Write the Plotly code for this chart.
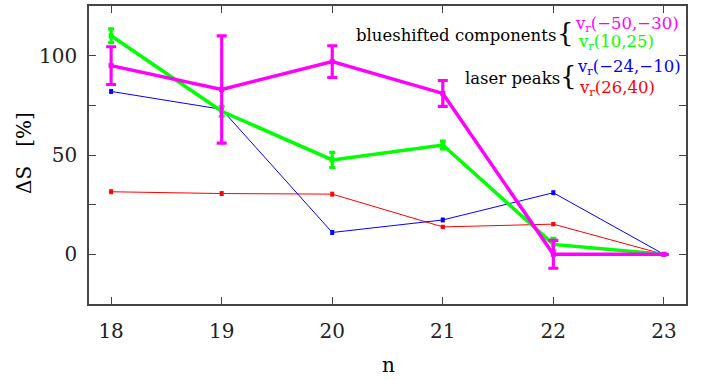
import plotly.graph_objects as go

n = [18, 19, 20, 21, 22, 23]

mag_vals = [95, 83, 97, 81, 0, 0]
mag_err = [9.5, 27, 8, 6.5, 7, 0]
grn_vals = [110, 72, 47.5, 55, 5, 0]
grn_err = [3.5, 2.5, 3.8, 2, 3, 0]
blu_vals = [82, 73, 11, 17.3, 31, 0]
blu_err = [1, 1, 1, 1, 1, 0.5]
red_vals = [31.5, 30.6, 30.3, 13.8, 15.2, 0]
red_err = [1, 1, 1, 0.8, 0.8, 0.5]

FONT = "DejaVu Serif"

fig = go.Figure()

def add(vals, err, color, lw, cap, ms):
    fig.add_trace(go.Scatter(
        x=n, y=vals, mode="lines+markers",
        line=dict(color=color, width=lw),
        marker=dict(color=color, size=ms, symbol="square"),
        error_y=dict(type="data", array=err, visible=True, color=color,
                     thickness=lw * 0.9, width=cap),
        showlegend=False, hoverinfo="skip"))

add(red_vals, red_err, "#ff0000", 1, 2, 4)
add(blu_vals, blu_err, "#0000ff", 1, 2, 4)
add(grn_vals, grn_err, "#00ff00", 3.5, 3, 5)
add(mag_vals, mag_err, "#ff00ff", 3.5, 5, 5)

L, R, T, B = 89, 18, 6, 76
W, H = 704, 380
pw, ph = W - L - R, H - T - B

def px(x):
    return (x - L) / pw

def py(y):
    return (H - B - y) / ph

ann = []
def text(x, y, s, color="black", size=16.5, xanchor="left", angle=0):
    ann.append(dict(x=px(x), y=py(y), xref="paper", yref="paper", text=s,
                    showarrow=False, xanchor=xanchor, yanchor="middle",
                    textangle=angle, borderpad=0,
                    font=dict(family=FONT, size=size, color=color)))

text(557, 35, "blueshifted components", xanchor="right")
text(565, 33, "{", size=26, xanchor="center")
text(574, 24, "v<sub>r</sub>(−50,−30)", color="#ff00ff")
text(577, 43, "v<sub>r</sub>(10,25)", color="#00ff00")
text(561, 78, "laser peaks", xanchor="right")
text(568, 76, "{", size=26, xanchor="center")
text(576, 67, "v<sub>r</sub>(−24,−10)", color="#0000ff")
text(578, 88, "v<sub>r</sub>(26,40)", color="#ff0000")
text(388, 365, "n", size=20, xanchor="center")
text(24, 153, "ΔS\u00a0\u00a0\u00a0[%]", size=20, xanchor="center", angle=-90)

axis_common = dict(showline=True, linecolor="#444", linewidth=1.5, mirror="ticks",
                   ticks="inside", ticklen=7, tickcolor="#444", tickwidth=1.2,
                   showgrid=False, zeroline=False, automargin=False,
                   tickfont=dict(family=FONT, size=20, color="#222"))

fig.update_layout(
    width=W, height=H,
    margin=dict(l=L, r=R, t=T, b=B),
    paper_bgcolor="white", plot_bgcolor="white",
    annotations=ann,
    xaxis=dict(range=[17.8, 23.2], tickvals=n, ticklabelstandoff=8, **axis_common),
    yaxis=dict(range=[-25, 125], tickvals=[0, 50, 100], ticklabelstandoff=6,
               minor=dict(dtick=25, ticks="inside", ticklen=7, tickcolor="#444", tickwidth=1.2),
               **axis_common),
)

fig.write_html("out.html", config={"displayModeBar": False},
               post_script="document.body.style.margin='0px';")
